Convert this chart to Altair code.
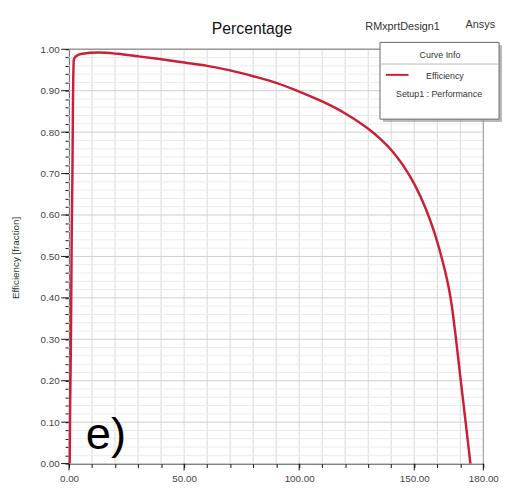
import altair as alt
import pandas as pd

# ---- data ----
speed = [0.3, 0.5, 0.8, 1.0, 1.2, 1.5, 1.7, 2.1, 3.0, 5.7, 12.8, 21, 30, 38.5, 50, 60, 70,
         80, 90, 100, 110, 120, 130, 135, 140, 145, 150, 155, 158, 160, 162, 164, 166,
         167, 168, 170, 172, 174.4]
efficiency = [0.0, 0.14, 0.28, 0.42, 0.57, 0.71, 0.86, 0.975, 0.983, 0.989, 0.992, 0.989,
              0.983, 0.977, 0.968, 0.960, 0.949, 0.935, 0.919, 0.898, 0.874, 0.845, 0.808,
              0.785, 0.757, 0.721, 0.675, 0.615, 0.570, 0.535, 0.495, 0.450, 0.392,
              0.352, 0.307, 0.210, 0.115, 0.0]

x_ticks = [0, 10, 20, 30, 40, 50, 60, 70, 80, 90, 100, 110, 120, 130, 140, 150, 160, 170, 180]
x_major = [0, 50, 100, 150, 180]
y_ticks = [round(i * 0.02, 2) for i in range(51)]
y_major = [round(i * 0.1, 1) for i in range(11)]

FONT = "Liberation Sans"
W, H = 421, 421

xs = alt.Scale(domain=[0, 180], nice=False, zero=False)
ys = alt.Scale(domain=[0, 1], nice=False, zero=False)

x_axis = alt.Axis(
    values=x_ticks, format=".2f", title=None, grid=False, tickSize=4, tickColor="#111",
    domainColor="#111", labelFont=FONT, labelFontSize=10, labelColor="#444", labelPadding=6,
    labelExpr="(datum.value % 50 == 0 || datum.value == 180) ? datum.label : ''",
    labelOverlap=False, labelFlush=False)
y_axis = alt.Axis(
    values=y_ticks, format=".2f", title=None, grid=False, tickSize=4, tickColor="#111",
    domainColor="#111", labelFont=FONT, labelFontSize=10, labelColor="#444", labelPadding=6,
    labelExpr="(abs(datum.value*10 - round(datum.value*10)) < 0.001) ? datum.label : ''",
    labelOverlap=False)


def X(field):
    return alt.X(field, scale=xs, axis=x_axis)


def Y(field):
    return alt.Y(field, scale=ys, axis=y_axis)


curve_df = pd.DataFrame({"speed": speed, "eff": efficiency, "i": range(len(speed))})

curve = alt.Chart(curve_df).mark_line(color="#cc1f36", strokeWidth=2.5, interpolate="monotone").encode(
    x=X("speed:Q"), y=Y("eff:Q"), order="i:Q")

# grid
vgrid = alt.Chart(pd.DataFrame({"v": x_ticks})).mark_rule(color="#d9d9d9", strokeWidth=1).encode(
    x=X("v:Q"))
hgrid_minor = alt.Chart(pd.DataFrame({"v": [v for v in y_ticks if round(v * 10, 6) % 1 != 0]})).mark_rule(
    color="#ebebeb", strokeWidth=1).encode(y=Y("v:Q"))
hgrid_major = alt.Chart(pd.DataFrame({"v": y_major})).mark_rule(color="#cfcfcf", strokeWidth=1).encode(
    y=Y("v:Q"))

# border top / right
top_border = alt.Chart(pd.DataFrame({"v": [1.0]})).mark_rule(color="#9a9a9a", strokeWidth=1.5).encode(
    y=Y("v:Q"))
right_border = alt.Chart(pd.DataFrame({"v": [180]})).mark_rule(color="#9a9a9a", strokeWidth=1).encode(
    x=X("v:Q"))

# major tick extensions
xmaj = alt.Chart(pd.DataFrame({"v": x_major})).mark_rule(color="#111", strokeWidth=1).encode(
    x=X("v:Q"), y=alt.value(H), y2=alt.value(H + 7))
ymaj = alt.Chart(pd.DataFrame({"v": y_major})).mark_rule(color="#111", strokeWidth=1).encode(
    y=Y("v:Q"), x=alt.value(-8), x2=alt.value(0))


def text(t, x, y, size, color="#222", weight="normal", align="center", baseline="middle", angle=0):
    return alt.Chart(pd.DataFrame({"t": [t]})).mark_text(
        font=FONT, fontSize=size, color=color, fontWeight=weight, align=align,
        baseline=baseline, angle=angle).encode(x=alt.value(x), y=alt.value(y), text="t:N")


title = text("Percentage", 186, -21, 16, "#111")
design = text("RMxprtDesign1", 339, -23, 11, "#333")
ansys = text("Ansys", 403, -25, 11, "#333", align="left")
ytitle = text("Efficiency [fraction]", -54, 212, 10, "#333", angle=270)
elabel = text("e)", 17, 406, 46, "#000", align="left", baseline="alphabetic")

# legend box
shadow = alt.Chart(pd.DataFrame({"a": [0]})).mark_rect(color="#8c8c8c", opacity=0.6).encode(
    x=alt.value(319), x2=alt.value(440), y=alt.value(-4), y2=alt.value(74))
box = alt.Chart(pd.DataFrame({"a": [0]})).mark_rect(fill="white", stroke="#666", strokeWidth=1).encode(
    x=alt.value(316), x2=alt.value(437), y=alt.value(-7), y2=alt.value(71))
sep = alt.Chart(pd.DataFrame({"a": [0]})).mark_rule(color="#bbb", strokeWidth=1).encode(
    x=alt.value(316), x2=alt.value(437), y=alt.value(15))
leg_line = alt.Chart(pd.DataFrame({"a": [0]})).mark_rule(color="#cc1f36", strokeWidth=2).encode(
    x=alt.value(322), x2=alt.value(345), y=alt.value(26))
t1 = text("Curve Info", 377, 6, 9, "#333")
t2 = text("Efficiency", 382, 27, 9, "#333")
t3 = text("Setup1 : Performance", 376, 45, 9, "#333")

chart = alt.layer(
    vgrid, hgrid_minor, hgrid_major, top_border, right_border, xmaj, ymaj, curve,
    title, design, ansys, ytitle, elabel, shadow, box, sep, leg_line, t1, t2, t3,
).properties(
    width=W, height=H,
    autosize=alt.AutoSizeParams(type="none"),
    padding={"left": 62, "top": 38, "right": 20, "bottom": 29},
    background="white",
).configure_view(strokeWidth=0)

chart.save("out.html", embed_options={"renderer": "svg", "actions": False})
